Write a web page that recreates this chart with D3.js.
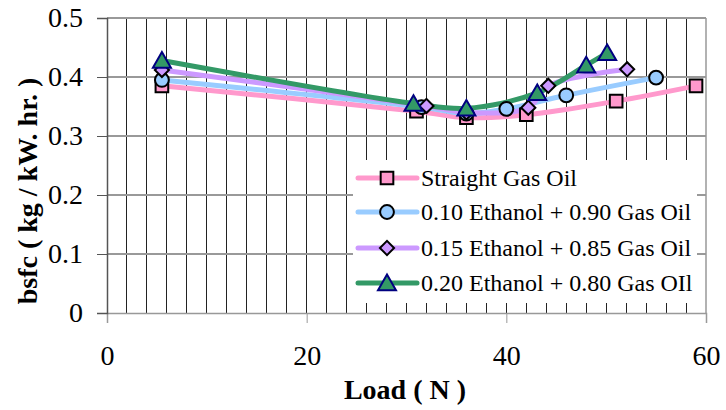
<!DOCTYPE html>
<html>
<head>
<meta charset="utf-8">
<script src="https://cdn.jsdelivr.net/npm/d3@7"></script>
<style>
  body { margin: 0; background: #fff; }
</style>
</head>
<body>
<div id="graphic"></div>
<script>
// data
const seriesNames = ["Straight Gas Oil", "0.10 Ethanol + 0.90 Gas Oil",
                     "0.15 Ethanol + 0.85 Gas Oil", "0.20 Ethanol + 0.80 Gas OIl"];
const gasOilLoad  = [5.5, 31, 36, 42, 51, 59];
const gasOilBsfc  = [0.385, 0.342, 0.331, 0.336, 0.359, 0.385];
const eth10Load   = [5.5, 31.5, 36, 40, 46, 55];
const eth10Bsfc   = [0.395, 0.349, 0.338, 0.346, 0.369, 0.399];
const eth15Load   = [5.5, 32, 36, 42.2, 44.2, 52.1];
const eth15Bsfc   = [0.412, 0.351, 0.340, 0.348, 0.385, 0.413];
const eth20Load   = [5.5, 30.7, 36, 43.1, 48, 50.1];
const eth20Bsfc   = [0.428, 0.355, 0.347, 0.373, 0.420, 0.441];
const xTicks = [0, 20, 40, 60];
const yTicks = [0, 0.1, 0.2, 0.3, 0.4, 0.5];

const serif = "'Liberation Serif', 'Times New Roman', serif";
const margin = {top: 18, right: 20, bottom: 97, left: 107};
const width = 726, height = 410;
const plotWidth = width - margin.left - margin.right;   // 599
const plotHeight = height - margin.top - margin.bottom; // 295

const svg = d3.select("#graphic").append("svg")
  .attr("width", width).attr("height", height)
  .attr("font-family", serif);
const g = svg.append("g")
  .attr("transform", "translate(" + margin.left + "," + margin.top + ")");

const x = d3.scaleLinear().domain([0, 60]).range([0, plotWidth]);
const y = d3.scaleLinear().domain([0, 0.5]).range([plotHeight, 0]);

// vertical grid every 2 units
g.append("g").selectAll("line")
  .data(d3.range(2, 60, 2))
  .join("line")
  .attr("x1", d => x(d)).attr("x2", d => x(d))
  .attr("y1", 0).attr("y2", plotHeight)
  .attr("stroke", "#222").attr("stroke-width", 1)
  .attr("shape-rendering", "crispEdges");

// horizontal grid
g.append("g").selectAll("line")
  .data(yTicks.slice(1))
  .join("line")
  .attr("x1", 0).attr("x2", plotWidth)
  .attr("y1", d => y(d)).attr("y2", d => y(d))
  .attr("stroke", "#999").attr("stroke-width", 1.5)
  .attr("shape-rendering", "crispEdges");

// right border
g.append("line")
  .attr("x1", plotWidth).attr("x2", plotWidth)
  .attr("y1", 0).attr("y2", plotHeight)
  .attr("stroke", "#999").attr("stroke-width", 1.5);

// legend box (white, covers grid)
const lg = g.append("g")
  .attr("transform", "translate(" + (353 - margin.left) + "," + (160 - margin.top) + ")");
lg.append("rect")
  .attr("width", 697 - 353).attr("height", 303 - 160)
  .attr("fill", "#fff");

// axes
const xAxis = g.append("g")
  .attr("transform", "translate(0," + plotHeight + ")")
  .call(d3.axisBottom(x).tickValues(xTicks).tickSize(10).tickPadding(22));
xAxis.attr("font-family", serif);
xAxis.select(".domain").attr("stroke", "#999").attr("stroke-width", 1.5);
xAxis.selectAll(".tick line").attr("stroke", "#999");
xAxis.selectAll("text").attr("font-size", 28);

const yAxis = g.append("g")
  .call(d3.axisLeft(y).tickValues(yTicks).tickSize(10).tickPadding(14)
    .tickFormat(d => d === 0 ? "0" : d3.format(".1f")(d)));
yAxis.attr("font-family", serif);
yAxis.select(".domain").attr("stroke", "#555").attr("stroke-width", 1.5);
yAxis.selectAll(".tick line").attr("stroke", "#555");
yAxis.selectAll("text").attr("font-size", 28);

// axis titles
svg.append("text")
  .attr("x", 405).attr("y", 399)
  .attr("text-anchor", "middle")
  .attr("font-size", 28).attr("font-weight", "bold")
  .text("Load ( N )");
svg.append("text")
  .attr("transform", "translate(37,191) rotate(-90)")
  .attr("text-anchor", "middle")
  .attr("font-size", 28).attr("font-weight", "bold")
  .text("bsfc ( kg / kW. hr. )");

// series
const series = [
  {name: seriesNames[0], xs: gasOilLoad, ys: gasOilBsfc, color: "#ff99cc", shape: d3.symbolSquare, rot: 0, dy: 0, stroke: "#000", size: 160},
  {name: seriesNames[1], xs: eth10Load, ys: eth10Bsfc, color: "#99ccff", shape: d3.symbolCircle, rot: 0, dy: 0, stroke: "#000", size: 150},
  {name: seriesNames[2], xs: eth15Load, ys: eth15Bsfc, color: "#cc99ff", shape: d3.symbolSquare, rot: 45, dy: 0, stroke: "#000", size: 100},
  {name: seriesNames[3], xs: eth20Load, ys: eth20Bsfc, color: "#339966", shape: d3.symbolTriangle, rot: 0, dy: 2, stroke: "#000080", size: 140}
];

const line = d3.line()
  .curve(d3.curveCatmullRom)
  .x(d => x(d[0])).y(d => y(d[1]));

series.forEach(s => {
  const pts = s.xs.map((v, i) => [v, s.ys[i]]);
  g.append("path")
    .datum(pts)
    .attr("fill", "none")
    .attr("stroke", s.color)
    .attr("stroke-width", 5)
    .attr("stroke-linejoin", "round")
    .attr("d", line);
});

series.forEach(s => {
  const pts = s.xs.map((v, i) => [v, s.ys[i]]);
  g.append("g").selectAll("path")
    .data(pts)
    .join("path")
    .attr("transform", d => "translate(" + x(d[0]) + "," + (y(d[1]) + s.dy) + ") rotate(" + s.rot + ")")
    .attr("d", d3.symbol().type(s.shape).size(s.size))
    .attr("fill", s.color)
    .attr("stroke", s.stroke)
    .attr("stroke-width", 2);
});

// legend entries
const rowY = [18, 52, 88, 123];
series.forEach((s, i) => {
  const row = lg.append("g").attr("transform", "translate(0," + rowY[i] + ")");
  row.append("line")
    .attr("x1", 5).attr("x2", 64)
    .attr("stroke", s.color).attr("stroke-width", 5)
    .attr("stroke-linecap", "round");
  row.append("path")
    .attr("transform", "translate(34," + s.dy + ") rotate(" + s.rot + ")")
    .attr("d", d3.symbol().type(s.shape).size(s.size))
    .attr("fill", s.color)
    .attr("stroke", s.stroke)
    .attr("stroke-width", 2);
  row.append("text")
    .attr("x", 68).attr("y", 8)
    .attr("font-size", 24)
    .text(s.name);
});
</script>
</body>
</html>
